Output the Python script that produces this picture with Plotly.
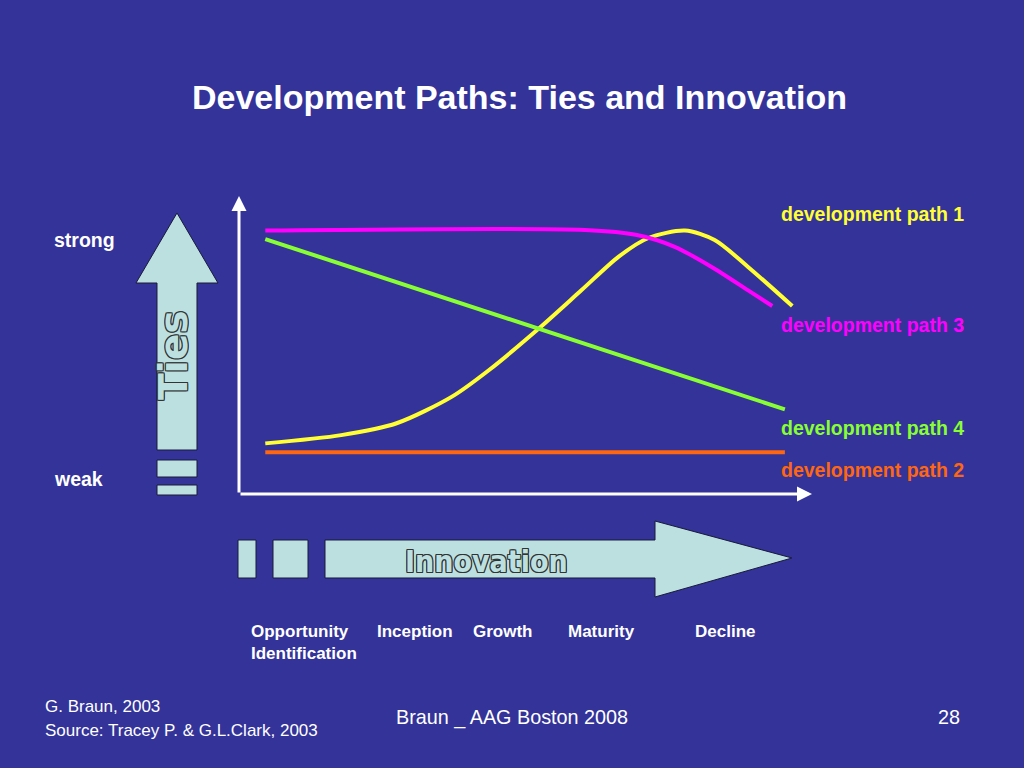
import plotly.graph_objects as go

W, H = 1024, 768
BG = "#333399"
ARROW_FILL = "#BCE0E0"

# ---- data (x: innovation stage 0-100, y: tie strength 0-100) ----
path1_x = [4.6, 17.9, 27.6, 37.3, 43.8, 52.2, 60.0, 66.5, 71.6, 78.1, 83.3, 89.1, 96.9]
path1_y = [17.1, 19.9, 23.9, 32.9, 41.9, 55.4, 68.9, 80.2, 86.4, 89.0, 85.8, 76.8, 63.5]
path3_x = [4.6, 60.6, 69.7, 76.2, 82.7, 89.1, 93.4]
path3_y = [89.0, 89.2, 87.5, 83.6, 76.8, 68.9, 63.5]
path4_x = [4.6, 95.6]
path4_y = [86.1, 28.6]
path2_x = [4.6, 95.6]
path2_y = [14.1, 14.1]

series_names = ["development path 1", "development path 3", "development path 4", "development path 2"]
series_colors = ["#FFFF33", "#FF00FF", "#88FF33", "#FF6611"]
label_y_px = [214, 325, 428, 470]

stage_labels = ["Opportunity<br>Identification", "Inception", "Growth", "Maturity", "Decline"]
stage_x_px = [249, 375, 471, 566, 693]

title_text = "Development Paths: Ties and Innovation"
footer_left = ["G. Braun, 2003", "Source: Tracey P. & G.L.Clark, 2003"]
footer_center = "Braun _ AAG Boston 2008"
page_number = "28"

# ---- layout geometry (pixels) ----
X0, X1 = 239, 810   # plot box left/right
YT, YB = 198, 494   # plot box top/bottom


def px(x):
    return x / W


def py(y):
    return 1 - y / H


def path_px(points):
    s = "M " + " L ".join(f"{px(x):.5f},{py(y):.5f}" for x, y in points) + " Z"
    return s


fig = go.Figure()

lines = [(path1_x, path1_y), (path3_x, path3_y), (path4_x, path4_y), (path2_x, path2_y)]
for (xs, ys), name, col in zip(lines, series_names, series_colors):
    fig.add_trace(go.Scatter(
        x=xs, y=ys, mode="lines", name=name,
        line=dict(color=col, width=4, shape="spline", smoothing=0.8),
        hoverinfo="skip", showlegend=False,
    ))

shapes = []
# Ties arrow
shapes.append(dict(type="path", xref="paper", yref="paper",
                   path=path_px([(177, 213), (218, 283), (197, 283), (197, 450),
                                 (157, 450), (157, 283), (136, 283)]),
                   fillcolor=ARROW_FILL, line=dict(color="#1a1a3a", width=1)))
for (y0, y1) in [(460, 477), (485, 495)]:
    shapes.append(dict(type="rect", xref="paper", yref="paper",
                       x0=px(157), x1=px(197), y0=py(y1), y1=py(y0),
                       fillcolor=ARROW_FILL, line=dict(color="#1a1a3a", width=1)))
# Innovation arrow
for (x0, x1) in [(238, 256), (273, 308)]:
    shapes.append(dict(type="rect", xref="paper", yref="paper",
                       x0=px(x0), x1=px(x1), y0=py(578), y1=py(540),
                       fillcolor=ARROW_FILL, line=dict(color="#1a1a3a", width=1)))
shapes.append(dict(type="path", xref="paper", yref="paper",
                   path=path_px([(325, 540), (655, 540), (655, 521), (792, 558),
                                 (655, 597), (655, 578), (325, 578)]),
                   fillcolor=ARROW_FILL, line=dict(color="#1a1a3a", width=1)))

annotations = []
# axes arrows
annotations.append(dict(xref="paper", yref="paper", x=px(X0), y=py(YT - 2), ax=0, ay=(YB - YT + 2),
                        showarrow=True, arrowhead=2, arrowsize=1, arrowwidth=3, arrowcolor="white", text=""))
annotations.append(dict(xref="paper", yref="paper", x=px(X1 + 2), y=py(YB), ax=-(X1 + 2 - X0), ay=0,
                        showarrow=True, arrowhead=2, arrowsize=1, arrowwidth=3, arrowcolor="white", text=""))

bold = "Liberation Sans, Arial, sans-serif"
annotations.append(dict(xref="paper", yref="paper", x=0.5 + 7 / W, y=py(97), text=f"<b>{title_text}</b>",
                        showarrow=False, xanchor="center", yanchor="middle",
                        font=dict(family=bold, size=34, color="white")))

for name, col, ly in zip(series_names, series_colors, label_y_px):
    annotations.append(dict(xref="paper", yref="paper", x=px(779), y=py(ly), text=f"<b>{name}</b>",
                            showarrow=False, xanchor="left", yanchor="middle",
                            font=dict(family=bold, size=19.5, color=col)))

annotations.append(dict(xref="paper", yref="paper", x=px(52), y=py(240), text="<b>strong</b>",
                        showarrow=False, xanchor="left", yanchor="middle",
                        font=dict(family=bold, size=19.5, color="white")))
annotations.append(dict(xref="paper", yref="paper", x=px(52), y=py(479), text="<b>weak</b>",
                        showarrow=False, xanchor="left", yanchor="middle",
                        font=dict(family=bold, size=19.5, color="white")))

for lab, sx in zip(stage_labels, stage_x_px):
    annotations.append(dict(xref="paper", yref="paper", x=px(sx), y=py(620), text=f"<b>{lab}</b>",
                            showarrow=False, xanchor="left", yanchor="top", align="left",
                            font=dict(family=bold, size=17, color="white")))

outline = ", ".join(f"{dx}px {dy}px 0 #333" for dx, dy in
                    [(1, 0), (-1, 0), (0, 1), (0, -1), (1, 1), (-1, -1), (1, -1), (-1, 1)])
annotations.append(dict(xref="paper", yref="paper", x=px(174), y=py(355), text="<b>Ties</b>",
                        showarrow=False, textangle=-90, xanchor="center", yanchor="middle",
                        font=dict(family="DejaVu Sans, sans-serif", size=39, color=ARROW_FILL,
                                  shadow=outline)))
annotations.append(dict(xref="paper", yref="paper", x=px(486), y=py(561), text="<b>Innovation</b>",
                        showarrow=False, xanchor="center", yanchor="middle",
                        font=dict(family="Liberation Sans Narrow, DejaVu Sans Condensed, sans-serif",
                                  size=30, color=ARROW_FILL, shadow=outline)))

for i, t in enumerate(footer_left):
    annotations.append(dict(xref="paper", yref="paper", x=px(43), y=py(706 + 24 * i), text=t,
                            showarrow=False, xanchor="left", yanchor="middle",
                            font=dict(family=bold, size=17, color="white")))
annotations.append(dict(xref="paper", yref="paper", x=px(512), y=py(717), text=footer_center,
                        showarrow=False, xanchor="center", yanchor="middle",
                        font=dict(family=bold, size=19.8, color="white")))
annotations.append(dict(xref="paper", yref="paper", x=px(962), y=py(717), text=page_number,
                        showarrow=False, xanchor="right", yanchor="middle",
                        font=dict(family=bold, size=19.8, color="white")))

fig.update_layout(
    width=W, height=H, autosize=False,
    margin=dict(l=0, r=0, t=0, b=0),
    paper_bgcolor=BG, plot_bgcolor="rgba(0,0,0,0)",
    xaxis=dict(domain=[px(X0), px(X1)], range=[0, 100], visible=False, fixedrange=True),
    yaxis=dict(domain=[py(YB), py(YT)], range=[0, 100], visible=False, fixedrange=True),
    shapes=shapes, annotations=annotations, showlegend=False,
)

fig.write_html("out.html", config={"displayModeBar": False},
               post_script="document.body.style.margin='0';document.body.style.overflow='hidden';"
                           "document.body.style.background='" + BG + "';")
